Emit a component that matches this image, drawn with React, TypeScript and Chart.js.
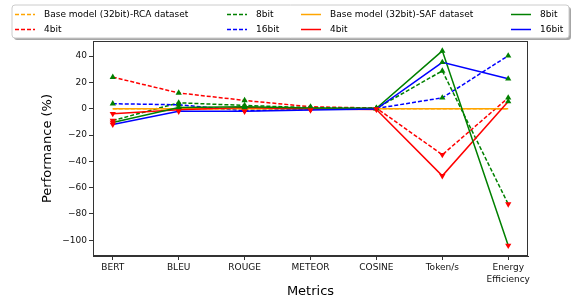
import { useEffect, useRef } from 'react';
import { Chart, registerables } from 'chart.js';
Chart.register(...registerables);

const categories: (string | string[])[] = ['BERT', 'BLEU', 'ROUGE', 'METEOR', 'COSINE', 'Token/s', ['Energy', 'Efficiency']];
const yTicks = [-100, -80, -60, -40, -20, 0, 20, 40];

const baseRCA = [0, 0, 0, 0, 0, 0, 0];
const rca4 = [24, 12, 6.3, 1.5, 0.5, -35, 8.3];
const rca8 = [-9, 4.5, 2.5, 0.8, 0.3, 28.8, -72.5];
const rca16 = [3.8, 3, -1.5, -0.5, 0.2, 8.3, 40.3];
const baseSAF = [0, 0, 0, 0, 0, 0, 0];
const saf4 = [-3.8, -0.8, 1, -0.3, -0.5, -51, 5.5];
const saf8 = [-10.5, 1, 1.5, 0.5, 0.3, 44, -104];
const saf16 = [-12, -2, -2, -1, -0.3, 35.3, 22.8];

const FONT = "'DejaVu Sans', sans-serif";
const ORANGE = '#FFA500';
const RED = '#FF0000';
const GREEN = '#008000';
const BLUE = '#0000FF';

type Entry = { label: string; color: string; dashed: boolean };
const legendCols: Entry[][] = [
  [
    { label: 'Base model (32bit)-RCA dataset', color: ORANGE, dashed: true },
    { label: '4bit', color: RED, dashed: true },
  ],
  [
    { label: '8bit', color: GREEN, dashed: true },
    { label: '16bit', color: BLUE, dashed: true },
  ],
  [
    { label: 'Base model (32bit)-SAF dataset', color: ORANGE, dashed: false },
    { label: '4bit', color: RED, dashed: false },
  ],
  [
    { label: '8bit', color: GREEN, dashed: false },
    { label: '16bit', color: BLUE, dashed: false },
  ],
];

function mk(label: string, values: number[], color: string, dashed: boolean, markers: boolean, idx: number) {
  return {
    label,
    data: values.map((v, i) => ({ x: i, y: v })),
    borderColor: color,
    backgroundColor: color,
    borderWidth: 1.5,
    borderDash: dashed ? [4, 2] : [],
    tension: 0,
    order: 20 - idx,
    pointStyle: 'triangle' as const,
    pointRadius: markers ? 3.6 : 0,
    pointBorderWidth: 0,
    pointRotation: (ctx: any) => ((ctx.raw?.y ?? 0) < 0 ? 180 : 0),
    pointBackgroundColor: (ctx: any) => ((ctx.raw?.y ?? 0) < 0 ? RED : GREEN),
    pointBorderColor: (ctx: any) => ((ctx.raw?.y ?? 0) < 0 ? RED : GREEN),
  };
}

const decor = {
  id: 'decor',
  beforeDraw(chart: any) {
    const c = chart.ctx;
    c.save();
    c.fillStyle = '#fff';
    c.fillRect(0, 0, chart.width, chart.height);
    c.restore();
  },
  afterDraw(chart: any) {
    const c = chart.ctx;
    const a = chart.chartArea;
    c.save();
    // frame
    c.strokeStyle = '#333';
    c.lineWidth = 1;
    c.strokeRect(a.left + 0.5, a.top + 0.5, a.right - a.left - 1, a.bottom - a.top - 1);
    // axis titles
    c.fillStyle = '#000';
    c.font = `13px ${FONT}`;
    c.textAlign = 'center';
    c.textBaseline = 'middle';
    c.fillText('Metrics', (a.left + a.right) / 2, 292);
    c.save();
    c.translate(48, (a.top + a.bottom) / 2);
    c.rotate(-Math.PI / 2);
    c.fillText('Performance (%)', 0, 0);
    c.restore();
    // legend
    const bx = 12, by = 5, bw = 557, bh = 33, r = 3;
    const rr = (x: number, y: number) => {
      c.beginPath();
      c.moveTo(x + r, y);
      c.lineTo(x + bw - r, y);
      c.quadraticCurveTo(x + bw, y, x + bw, y + r);
      c.lineTo(x + bw, y + bh - r);
      c.quadraticCurveTo(x + bw, y + bh, x + bw - r, y + bh);
      c.lineTo(x + r, y + bh);
      c.quadraticCurveTo(x, y + bh, x, y + bh - r);
      c.lineTo(x, y + r);
      c.quadraticCurveTo(x, y, x + r, y);
      c.closePath();
    };
    c.fillStyle = 'rgba(0,0,0,0.35)';
    rr(bx + 2, by + 2);
    c.fill();
    c.fillStyle = '#fff';
    rr(bx, by);
    c.fill();
    c.strokeStyle = '#cccccc';
    c.lineWidth = 1;
    c.stroke();
    const lineX = [15, 227, 301, 511];
    const textX = [44, 256, 330, 540];
    const rowY = [14.5, 29.5];
    c.font = `9px ${FONT}`;
    c.textAlign = 'left';
    c.textBaseline = 'middle';
    legendCols.forEach((col, ci) => {
      col.forEach((e, ri) => {
        c.strokeStyle = e.color;
        c.lineWidth = 1.5;
        c.setLineDash(e.dashed ? [4, 2] : []);
        c.beginPath();
        c.moveTo(lineX[ci], rowY[ri]);
        c.lineTo(lineX[ci] + 20, rowY[ri]);
        c.stroke();
        c.setLineDash([]);
        c.fillStyle = '#000';
        c.fillText(e.label, textX[ci], rowY[ri]);
      });
    });
    c.restore();
  },
};

export default function App() {
  const ref = useRef<HTMLCanvasElement>(null);
  useEffect(() => {
    const chart = new Chart(ref.current as HTMLCanvasElement, {
      type: 'line',
      data: {
        datasets: [
          mk('Base model (32bit)-RCA dataset', baseRCA, ORANGE, true, false, 0),
          mk('4bit', rca4, RED, true, true, 1),
          mk('8bit', rca8, GREEN, true, true, 2),
          mk('16bit', rca16, BLUE, true, true, 3),
          mk('Base model (32bit)-SAF dataset', baseSAF, ORANGE, false, false, 4),
          mk('4bit', saf4, RED, false, true, 5),
          mk('8bit', saf8, GREEN, false, true, 6),
          mk('16bit', saf16, BLUE, false, true, 7),
        ] as any,
      },
      options: {
        responsive: false,
        animation: false,
        layout: { padding: { top: 41, right: 49, left: 0, bottom: 0 } },
        plugins: { legend: { display: false }, tooltip: { enabled: false } },
        scales: {
          x: {
            type: 'linear',
            min: -0.3,
            max: 6.3,
            afterFit: (s: any) => { s.height = 49; },
            afterBuildTicks: (s: any) => { s.ticks = categories.map((_, i) => ({ value: i })); },
            ticks: {
              autoSkip: false,
              maxRotation: 0,
              padding: 2,
              color: '#111',
              font: { family: FONT, size: 9, lineHeight: 1.3 },
              callback: (v: any) => categories[Math.round(Number(v))] as any,
            },
            grid: { drawOnChartArea: false, drawTicks: true, tickLength: 4, color: '#333' },
            border: { display: true, color: '#333' },
          },
          y: {
            type: 'linear',
            min: -112,
            max: 51.5,
            afterFit: (s: any) => { s.width = 93; },
            afterBuildTicks: (s: any) => { s.ticks = yTicks.map((v) => ({ value: v })); },
            ticks: {
              padding: 2,
              color: '#111',
              font: { family: FONT, size: 9 },
              callback: (v: any) => String(v).replace('-', '\u2212'),
            },
            grid: { drawOnChartArea: false, drawTicks: true, tickLength: 4, color: '#333' },
            border: { display: true, color: '#333' },
          },
        },
      },
      plugins: [decor],
    });
    return () => chart.destroy();
  }, []);
  return (
    <div style={{ position: 'fixed', left: 0, top: 0, width: 577, height: 305, background: '#fff' }}>
      <canvas ref={ref} width={577} height={305} style={{ width: 577, height: 305, display: 'block' }} />
    </div>
  );
}
